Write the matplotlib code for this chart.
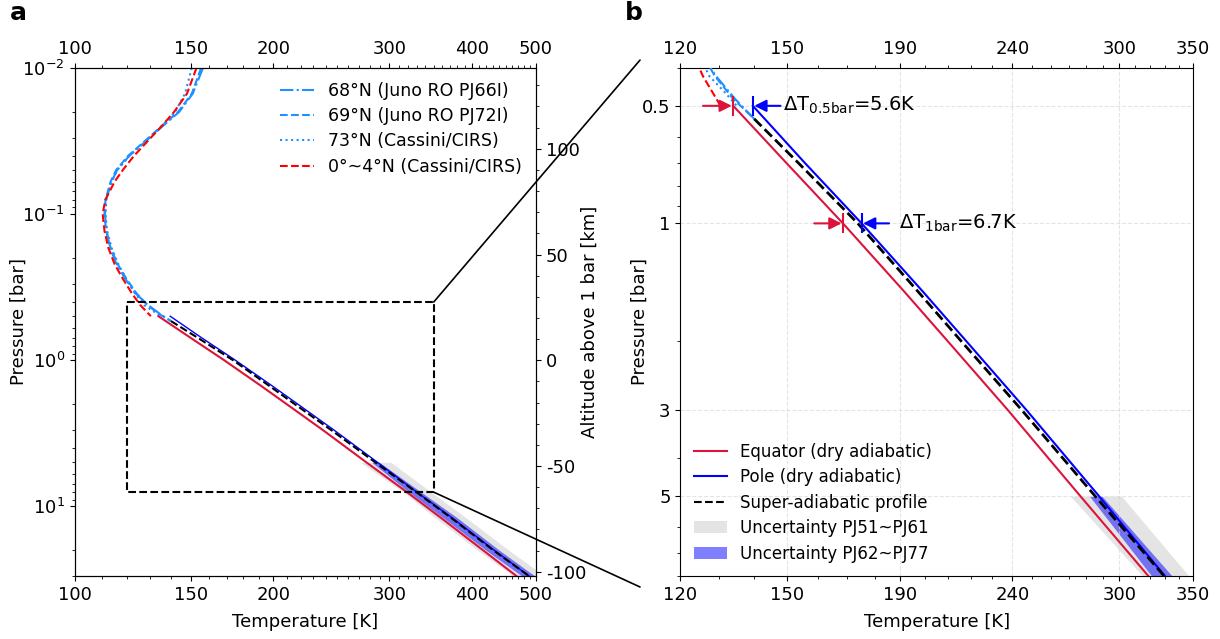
import numpy as np
import matplotlib
matplotlib.use("Agg")
import matplotlib.pyplot as plt
from matplotlib.patches import ConnectionPatch, Rectangle, Patch
from matplotlib.lines import Line2D
from matplotlib.ticker import FixedLocator, NullFormatter

# observed profiles, pressure [bar] / temperature [K]
P_OBS = [0.01, 0.015, 0.02, 0.025, 0.03, 0.04, 0.05, 0.06, 0.08, 0.1,
         0.13, 0.17, 0.22, 0.28, 0.35, 0.42, 0.48, 0.54]
T_68N = [156.5, 151.0, 144.0, 136.0, 130.0, 121.0, 116.0, 113.8, 111.6, 111.2,
         111.8, 113.2, 115.8, 119.5, 123.8, 129.3, 134.5, 140.0]
T_69N = [155.5, 150.5, 143.5, 135.5, 129.5, 120.5, 115.6, 113.4, 111.4, 111.0,
         111.6, 113.4, 116.2, 120.0, 124.2, 129.0, 134.0, 140.0]
P_73N = [0.01, 0.015, 0.02, 0.025, 0.03, 0.04, 0.05, 0.06, 0.08, 0.1,
         0.13, 0.17, 0.22, 0.28, 0.35, 0.42, 0.46, 0.5]
T_73N = [150.5, 147.0, 142.0, 135.5, 129.8, 121.0, 116.0, 113.8, 111.7, 111.4,
         112.0, 113.8, 116.5, 119.8, 123.5, 127.5, 131.5, 135.0]
P_EQ_OBS = [0.01, 0.015, 0.02, 0.025, 0.03, 0.04, 0.05, 0.06, 0.08, 0.1,
            0.13, 0.17, 0.22, 0.28, 0.35, 0.42, 0.5]
T_EQ_OBS = [153.0, 148.0, 141.5, 135.5, 130.5, 123.0, 118.3, 115.0, 111.3, 110.3,
            111.0, 112.5, 115.0, 118.5, 122.2, 125.8, 130.5]

# adiabats
P_ADIA = [0.5, 0.7, 1, 1.5, 2, 3, 5, 8, 12, 20, 30]
T_EQ = [134.0, 149.7, 168.5, 191.7, 209.6, 237.6, 276.7, 318.8, 359.0, 415.8, 467.0]
T_POLE = [139.6, 155.6, 175.2, 199.3, 217.9, 247.0, 287.7, 330.0, 373.2, 432.3, 488.0]
P_SUPER = [0.54, 0.7, 1, 1.5, 2, 3, 5, 8, 12, 20, 30]
T_SUPER = [140.0, 153.5, 173.8, 197.3, 215.6, 244.6, 285.4, 329.5, 372.0, 431.0, 488.0]

# uncertainty bands
P_BAND = [5, 8, 12, 20, 30]
GRAY_LO = [271.0, 315.0, 352.0, 408.0, 462.0]
GRAY_HI = [301.5, 347.0, 392.0, 455.0, 515.0]
BLUE_LO = [282.0, 321.0, 362.0, 420.0, 476.0]
BLUE_HI = [289.5, 335.0, 380.0, 440.0, 498.0]

LIGHT = "dodgerblue"
EQ_C = "crimson"

plt.rcParams["font.size"] = 13
plt.rcParams["axes.unicode_minus"] = False

fig = plt.figure(figsize=(12.2, 6.39), dpi=100)
ax1 = fig.add_axes([0.0611, 0.0986, 0.3782, 0.795])
ax2 = fig.add_axes([0.5577, 0.0986, 0.4202, 0.795])


def draw(ax, lw_pole, lw_super):
    ax.fill_betweenx(P_BAND, GRAY_LO, GRAY_HI, color="lightgray", alpha=0.6, lw=0, zorder=1)
    ax.fill_betweenx(P_BAND, BLUE_LO, BLUE_HI, color="blue", alpha=0.5, lw=0, zorder=1)
    ax.plot(T_68N, P_OBS, color=LIGHT, ls="-.", lw=1.5, zorder=3)
    ax.plot(T_69N, P_OBS, color=LIGHT, ls="--", lw=1.5, zorder=3)
    ax.plot(T_73N, P_73N, color=LIGHT, ls=":", lw=1.5, zorder=3)
    ax.plot(T_EQ_OBS, P_EQ_OBS, color="red", ls="--", lw=1.5, zorder=3)
    ax.plot(T_EQ, P_ADIA, color=EQ_C, lw=1.5, zorder=3)
    ax.plot(T_POLE, P_ADIA, color="blue", lw=lw_pole, zorder=3)
    ax.plot(T_SUPER, P_SUPER, color="k", ls="--", lw=lw_super, zorder=4)


# ---- panel a
draw(ax1, 1.0, 1.5)
ax1.set_xscale("log")
ax1.set_yscale("log")
ax1.set_xlim(100, 500)
ax1.set_ylim(30, 0.01)
ax1.xaxis.set_major_locator(FixedLocator([100, 150, 200, 300, 400, 500]))
ax1.xaxis.set_minor_locator(FixedLocator(np.arange(110, 500, 10)))
ax1.set_xticklabels(["100", "150", "200", "300", "400", "500"])
ax1.xaxis.set_minor_formatter(NullFormatter())
ax1.tick_params(axis="x", which="both", top=True, labeltop=True)
ax1.set_xlabel("Temperature [K]", labelpad=7)
ax1.set_ylabel("Pressure [bar]", labelpad=-4)

ax1.add_patch(Rectangle((120, 0.4), 230, 7.6, fill=False, ls="--", lw=1.5, ec="k", zorder=5))

alt = ax1.twinx()
alt.set_ylim(-102.0, 138.2)
alt.set_yticks([-100, -50, 0, 50, 100])
alt.yaxis.set_minor_locator(FixedLocator(np.arange(-100, 140, 10)))
alt.set_ylabel("Altitude above 1 bar [km]", labelpad=-4)

h1 = [Line2D([], [], color=LIGHT, ls="-.", lw=1.5),
      Line2D([], [], color=LIGHT, ls="--", lw=1.5),
      Line2D([], [], color=LIGHT, ls=":", lw=1.5),
      Line2D([], [], color="red", ls="--", lw=1.5)]
ax1.legend(h1, ["68°N (Juno RO PJ66I)", "69°N (Juno RO PJ72I)",
                "73°N (Cassini/CIRS)", "0°~4°N (Cassini/CIRS)"],
           loc="upper right", frameon=False, fontsize=12.5, borderaxespad=0.4,
           labelspacing=0.42)

# ---- panel b
draw(ax2, 1.5, 2.0)
ax2.set_xscale("log")
ax2.set_yscale("log")
ax2.set_xlim(120, 350)
ax2.set_ylim(8, 0.4)
ax2.xaxis.set_major_locator(FixedLocator([120, 150, 190, 240, 300, 350]))
ax2.xaxis.set_minor_locator(FixedLocator(np.arange(130, 350, 10)))
ax2.set_xticklabels(["120", "150", "190", "240", "300", "350"])
ax2.xaxis.set_minor_formatter(NullFormatter())
ax2.yaxis.set_major_locator(FixedLocator([0.5, 1, 3, 5]))
ax2.set_yticklabels(["0.5", "1", "3", "5"])
ax2.yaxis.set_minor_formatter(NullFormatter())
ax2.tick_params(axis="x", which="both", top=True, labeltop=True)
ax2.grid(True, which="major", ls="--", color="lightgray", lw=0.8, alpha=0.6)
ax2.set_xlabel("Temperature [K]", labelpad=7)
ax2.set_ylabel("Pressure [bar]", labelpad=-5)

# delta-T markers
for p, t_eq, t_pole, x_red, x_blue, x_txt, txt in [
        (P_ADIA[0], T_EQ[0], T_POLE[0], 125.8, 147.9, 148.8, r"$\Delta$T$_{\mathregular{0.5bar}}$=5.6K"),
        (P_ADIA[2], T_EQ[2], T_POLE[2], 158.7, 185.5, 189.5, r"$\Delta$T$_{\mathregular{1bar}}$=6.7K")]:
    ax2.annotate("", xy=(t_eq, p), xytext=(x_red, p),
                 arrowprops=dict(arrowstyle="-|>", color=EQ_C, lw=1.5, mutation_scale=18, shrinkA=0, shrinkB=1))
    ax2.annotate("", xy=(t_pole, p), xytext=(x_blue, p),
                 arrowprops=dict(arrowstyle="-|>", color="blue", lw=1.5, mutation_scale=18, shrinkA=0, shrinkB=1))
    ax2.plot([t_eq], [p], marker="|", ms=14, mew=1.5, color=EQ_C, zorder=6)
    ax2.plot([t_pole], [p], marker="|", ms=14, mew=1.5, color="blue", zorder=6)
    ax2.text(x_txt, p, txt, va="center", ha="left", fontsize=14)

h2 = [Line2D([], [], color=EQ_C, lw=1.5),
      Line2D([], [], color="blue", lw=1.5),
      Line2D([], [], color="k", ls="--", lw=1.5),
      Patch(facecolor="lightgray", alpha=0.6, lw=0),
      Patch(facecolor="blue", alpha=0.5, lw=0)]
ax2.legend(h2, ["Equator (dry adiabatic)", "Pole (dry adiabatic)", "Super-adiabatic profile",
                "Uncertainty PJ51~PJ61", "Uncertainty PJ62~PJ77"],
           loc="lower left", frameon=False, fontsize=12, borderaxespad=0.4,
           labelspacing=0.45)

# zoom connectors
for corner, target in [((350, 0.4), (0.5246, 0.906)), ((350, 8), (0.5246, 0.0814))]:
    fig.add_artist(ConnectionPatch(xyA=corner, coordsA=ax1.transData, xyB=target,
                                   coordsB="figure fraction", color="k", lw=1.2))

fig.text(0.008, 0.998, "a", fontsize=18, weight="bold", va="top")
fig.text(0.512, 0.998, "b", fontsize=18, weight="bold", va="top")

fig.savefig("out.png", dpi=100)
